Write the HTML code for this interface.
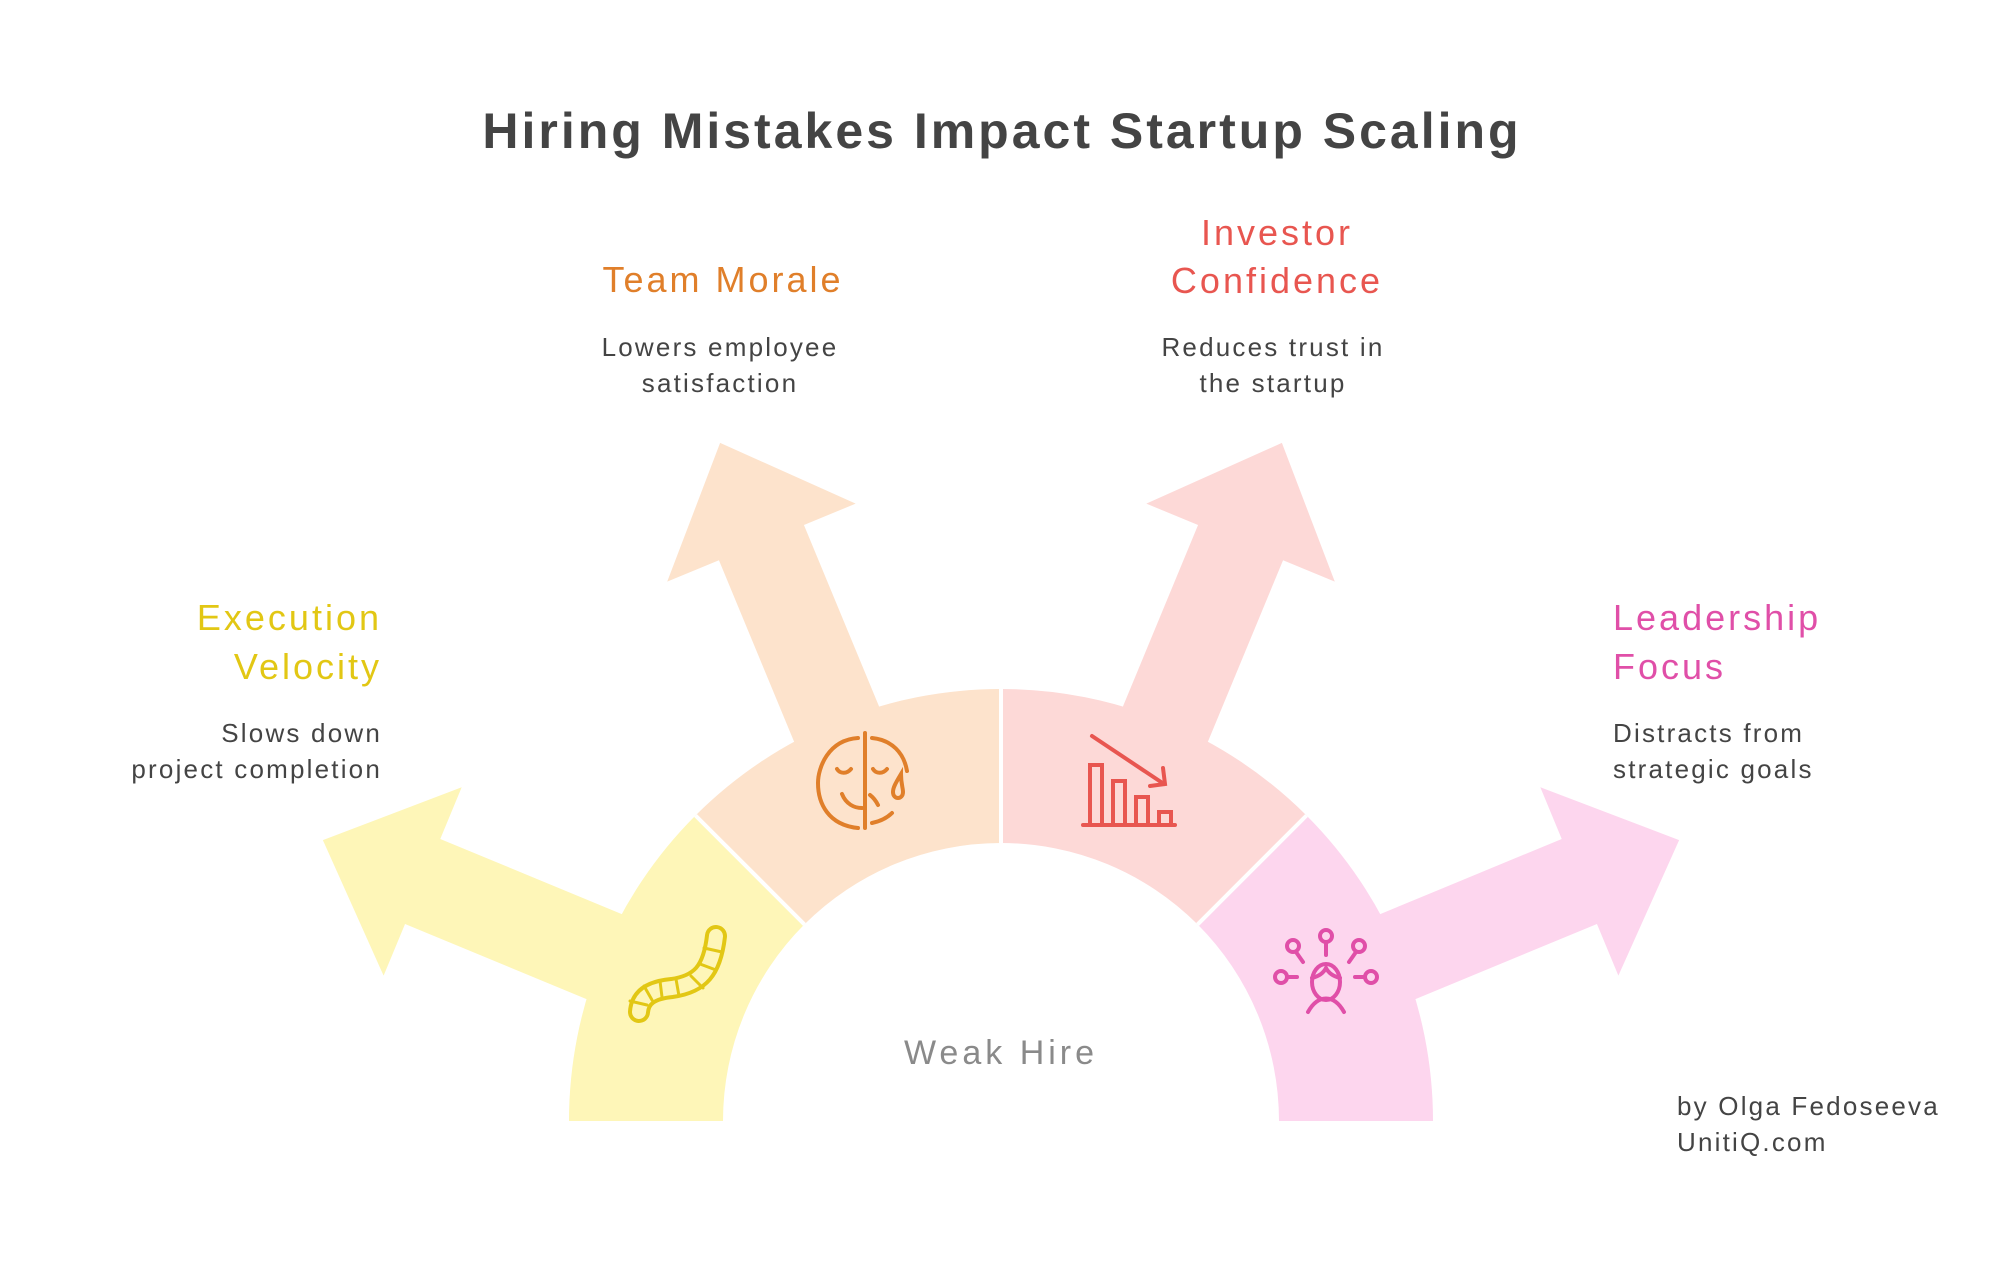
<!DOCTYPE html>
<html><head><meta charset="utf-8"><style>
html,body{margin:0;padding:0;background:#fff;}
svg{display:block;}
text{font-family:"Liberation Sans",sans-serif;}
</style></head><body>
<svg width="1992" height="1262" viewBox="0 0 1992 1262" xmlns="http://www.w3.org/2000/svg">
<rect width="1992" height="1262" fill="#fff"/>
<text x="1002" y="148" text-anchor="middle" font-size="50" font-weight="bold" letter-spacing="3" fill="#444">Hiring Mistakes Impact Startup Scaling</text>

<!-- arrows -->
<g transform="translate(1001,1121)">
  <polygon transform="rotate(-157.5)" points="300,-46 626,-46 626,-102 734,0 626,102 626,46 300,46" fill="#fef6b8"/>
  <polygon transform="rotate(-112.5)" points="300,-46 626,-46 626,-102 734,0 626,102 626,46 300,46" fill="#fde3cc"/>
  <polygon transform="rotate(-67.5)" points="300,-46 626,-46 626,-102 734,0 626,102 626,46 300,46" fill="#fdd9d7"/>
  <polygon transform="rotate(-22.5)" points="300,-46 626,-46 626,-102 734,0 626,102 626,46 300,46" fill="#fdd6ee"/>
</g>
<!-- sectors -->
<path d="M569,1121 A432,432 0 0 1 695.5,815.5 L804.4,924.4 A278,278 0 0 0 723,1121 Z" fill="#fef6b8"/>
<path d="M695.5,815.5 A432,432 0 0 1 1001,689 L1001,843 A278,278 0 0 0 804.4,924.4 Z" fill="#fde3cc"/>
<path d="M1001,689 A432,432 0 0 1 1306.5,815.5 L1197.6,924.4 A278,278 0 0 0 1001,843 Z" fill="#fdd9d7"/>
<path d="M1306.5,815.5 A432,432 0 0 1 1433,1121 L1279,1121 A278,278 0 0 0 1197.6,924.4 Z" fill="#fdd6ee"/>
<g stroke="#fff" stroke-width="4">
  <line x1="695.5" y1="815.5" x2="804.4" y2="924.4"/>
  <line x1="1001" y1="689" x2="1001" y2="843"/>
  <line x1="1306.5" y1="815.5" x2="1197.6" y2="924.4"/>
</g>

<!-- worm icon -->
<g fill="none" stroke-linecap="round" stroke-linejoin="round">
  <path d="M716,936 C712,971 700,984 672,988 C650,990 640,998 639,1012" stroke="#e2c714" stroke-width="22"/>
  <path d="M716,936 C712,971 700,984 672,988 C650,990 640,998 639,1012" stroke="#fef6b8" stroke-width="14"/>
  <g stroke="#e2c714" stroke-width="3">
    <line x1="704" y1="948" x2="722" y2="952"/>
    <line x1="700" y1="964" x2="716" y2="970"/>
    <line x1="691" y1="976" x2="703" y2="988"/>
    <line x1="676" y1="979" x2="679" y2="996"/>
    <line x1="660" y1="981" x2="662" y2="997"/>
    <line x1="644" y1="986" x2="652" y2="1000"/>
    <line x1="630" y1="1001" x2="647" y2="1005"/>
  </g>
</g>
<!-- face icon -->
<g fill="none" stroke="#e07f2a" stroke-width="4" stroke-linecap="round">
  <line x1="865" y1="733" x2="865" y2="828"/>
  <path d="M858,738 c-30,2 -40,30 -40,45 c0,20 10,42 40,45"/>
  <path d="M872,738 c20,2 32,15 35,33"/>
  <path d="M872,823 c10,-2 16,-6 20,-10"/>
  <path d="M837,769 c3,5 10,5 14,0 M873,769 c3,5 10,5 14,0"/>
  <path d="M842,794 c4,10 12,14 20,14 M870,795 c4,3 6,6 8,10"/>
  <path d="M901,774 c-6,10 -8,14 -8,18 c0,8 10,8 10,0 c0,-4 -2,-8 -2,-18 Z"/>
</g>
<!-- chart icon -->
<g fill="none" stroke="#e85650" stroke-width="4" stroke-linecap="round">
  <line x1="1083" y1="825" x2="1175" y2="825"/>
  <rect x="1090" y="765" width="12" height="60"/>
  <rect x="1113" y="781" width="12" height="44"/>
  <rect x="1136" y="797" width="12" height="28"/>
  <rect x="1159" y="812" width="12" height="13"/>
  <line x1="1092" y1="736" x2="1164" y2="784"/>
  <path d="M1163,768 l2,16 l-15,2"/>
</g>
<!-- leader icon -->
<g fill="none" stroke="#e04fa8" stroke-width="4" stroke-linecap="round">
  <circle cx="1326" cy="936" r="6"/><line x1="1326" y1="942" x2="1326" y2="955"/>
  <circle cx="1293" cy="946" r="6"/><line x1="1296" y1="952" x2="1303" y2="962"/>
  <circle cx="1359" cy="946" r="6"/><line x1="1356" y1="952" x2="1349" y2="962"/>
  <circle cx="1281" cy="977" r="6"/><line x1="1287" y1="977" x2="1297" y2="977"/>
  <circle cx="1371" cy="977" r="6"/><line x1="1365" y1="977" x2="1355" y2="977"/>
  <ellipse cx="1326" cy="982" rx="14" ry="18"/>
  <path d="M1312,978 c8,-2 12,-6 14,-10 c2,4 6,8 14,10"/>
  <path d="M1308,1012 c10,-18 26,-18 36,0"/>
</g>

<!-- labels -->
<g font-size="36" letter-spacing="3">
  <text x="382" y="630" text-anchor="end" fill="#e2c714">Execution</text>
  <text x="382" y="679" text-anchor="end" fill="#e2c714">Velocity</text>
  <text x="723" y="292" text-anchor="middle" fill="#e07f2a">Team Morale</text>
  <text x="1277" y="245" text-anchor="middle" fill="#e85650">Investor</text>
  <text x="1277" y="293" text-anchor="middle" fill="#e85650">Confidence</text>
  <text x="1613" y="630" fill="#e04fa8">Leadership</text>
  <text x="1613" y="679" fill="#e04fa8">Focus</text>
</g>
<g font-size="26" fill="#444" letter-spacing="2.2">
  <text x="382" y="742" text-anchor="end">Slows down</text>
  <text x="382" y="778" text-anchor="end">project completion</text>
  <text x="720" y="356" text-anchor="middle">Lowers employee</text>
  <text x="720" y="392" text-anchor="middle">satisfaction</text>
  <text x="1273" y="356" text-anchor="middle">Reduces trust in</text>
  <text x="1273" y="392" text-anchor="middle">the startup</text>
  <text x="1613" y="742">Distracts from</text>
  <text x="1613" y="778">strategic goals</text>
  <text x="1677" y="1115">by Olga Fedoseeva</text>
  <text x="1677" y="1151">UnitiQ.com</text>
</g>
<text x="1001" y="1064" text-anchor="middle" font-size="34" letter-spacing="4" fill="#8a8a8a">Weak Hire</text>
</svg>
</body></html>
